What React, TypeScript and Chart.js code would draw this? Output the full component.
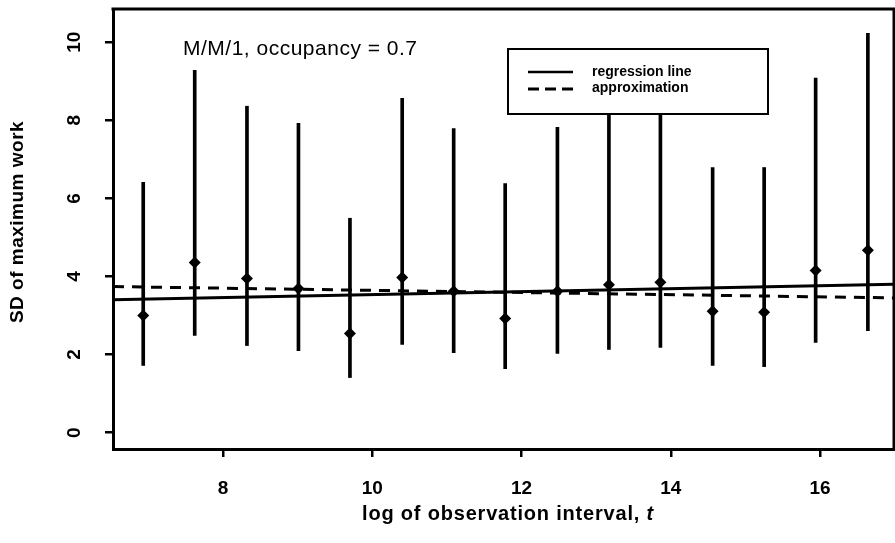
import React, { useEffect, useRef } from "react";
import { Chart, registerables } from "chart.js";

Chart.register(...registerables);

// ---- data ----
const logT = [6.93, 7.62, 8.32, 9.01, 9.7, 10.4, 11.09, 11.78, 12.48, 13.17, 13.86, 14.56, 15.25, 15.94, 16.64];
const sdEstimate = [3.0, 4.36, 3.95, 3.69, 2.54, 3.97, 3.62, 2.92, 3.62, 3.79, 3.85, 3.11, 3.08, 4.15, 4.67];
const sdLower = [1.72, 2.49, 2.23, 2.1, 1.41, 2.26, 2.05, 1.64, 2.03, 2.13, 2.18, 1.72, 1.69, 2.31, 2.61];
const sdUpper = [6.41, 9.28, 8.36, 7.92, 5.49, 8.56, 7.79, 6.38, 7.82, 8.6, 8.5, 6.79, 6.79, 9.08, 10.23];
const xRange = [6.525, 16.99];
const yRange = [-0.42, 10.85];
const regressionLine = [3.4, 3.8];
const approximationLine = [3.74, 3.45];
const yTickValues = [0, 2, 4, 6, 8, 10];
const legendLabels = ["regression line", "approximation"];
const annotationText = "M/M/1, occupancy = 0.7";
const xTitle = "log of observation interval, ";
const xTitleVar = "t";
const yTitle = "SD of maximum work";

const FONT = "'Liberation Sans', Arial, Helvetica, sans-serif";

const decorPlugin = {
  id: "decor",
  afterDatasetsDraw(chart: any) {
    const { ctx, chartArea: a } = chart;
    ctx.save();
    ctx.strokeStyle = "#000";
    ctx.lineWidth = 3;
    ctx.beginPath();
    ctx.moveTo(a.left - 1.5, a.top);
    ctx.lineTo(a.right, a.top);
    ctx.lineTo(a.right, a.bottom + 1.5);
    ctx.stroke();

    // legend box
    const lx = 508, ly = 49, lw = 260, lh = 65;
    ctx.fillStyle = "#fff";
    ctx.fillRect(lx, ly, lw, lh);
    ctx.lineWidth = 2;
    ctx.strokeRect(lx, ly, lw, lh);
    // samples
    ctx.lineWidth = 2.5;
    ctx.beginPath();
    ctx.moveTo(528, 72);
    ctx.lineTo(573, 72);
    ctx.stroke();
    ctx.lineWidth = 3;
    ctx.setLineDash([11, 6]);
    ctx.beginPath();
    ctx.moveTo(528, 89);
    ctx.lineTo(573, 89);
    ctx.stroke();
    ctx.setLineDash([]);
    ctx.fillStyle = "#000";
    ctx.font = `bold 14px ${FONT}`;
    ctx.textAlign = "left";
    ctx.textBaseline = "middle";
    ctx.fillText(legendLabels[0], 592, 72);
    ctx.fillText(legendLabels[1], 592, 88);

    // annotation
    ctx.font = `21px ${FONT}`;
    (ctx as any).letterSpacing = "0.5px";
    ctx.textBaseline = "alphabetic";
    ctx.fillText(annotationText, 183, 55);
    (ctx as any).letterSpacing = "0px";
    ctx.restore();
  },
  afterDraw(chart: any) {
    const { ctx, scales } = chart;
    const y = scales.y;
    ctx.save();
    ctx.fillStyle = "#000";
    // y tick labels rotated
    ctx.font = `bold 19px ${FONT}`;
    ctx.textAlign = "center";
    ctx.textBaseline = "middle";
    for (const v of yTickValues) {
      const py = y.getPixelForValue(v);
      ctx.save();
      ctx.translate(75, py);
      ctx.rotate(-Math.PI / 2);
      ctx.fillText(String(v), 0, 0);
      ctx.restore();
    }
    // y title
    ctx.save();
    ctx.translate(18, 222);
    ctx.rotate(-Math.PI / 2);
    (ctx as any).letterSpacing = "0.5px";
    ctx.font = `bold 19px ${FONT}`;
    ctx.fillText(yTitle, 0, 0);
    ctx.restore();

    // x title with italic variable
    ctx.textBaseline = "alphabetic";
    ctx.textAlign = "left";
    (ctx as any).letterSpacing = "0.8px";
    ctx.font = `bold 20px ${FONT}`;
    const w1 = ctx.measureText(xTitle).width;
    ctx.font = `italic bold 20px ${FONT}`;
    const w2 = ctx.measureText(xTitleVar).width;
    const start = 508 - (w1 + w2) / 2;
    ctx.font = `bold 20px ${FONT}`;
    ctx.fillText(xTitle, start, 520);
    ctx.font = `italic bold 20px ${FONT}`;
    ctx.fillText(xTitleVar, start + w1, 520);
    ctx.restore();
  },
};

export default function App() {
  const ref = useRef<HTMLCanvasElement | null>(null);

  useEffect(() => {
    if (!ref.current) return;
    const chart = new Chart(ref.current, {
      type: "scatter",
      data: {
        datasets: [
          {
            type: "bar",
            data: logT.map((x, i) => ({ x, y: [sdLower[i], sdUpper[i]] })) as any,
            backgroundColor: "#000",
            borderWidth: 0,
            barThickness: 3,
            grouped: false,
            order: 3,
          } as any,
          {
            type: "scatter",
            data: logT.map((x, i) => ({ x, y: sdEstimate[i] })),
            pointStyle: "rectRot",
            pointRadius: 6,
            backgroundColor: "#000",
            borderColor: "#000",
            borderWidth: 0,
            order: 1,
          },
          {
            type: "line",
            data: [
              { x: xRange[0], y: regressionLine[0] },
              { x: xRange[1], y: regressionLine[1] },
            ],
            borderColor: "#000",
            borderWidth: 3,
            pointRadius: 0,
            fill: false,
            order: 2,
          },
          {
            type: "line",
            data: [
              { x: xRange[0], y: approximationLine[0] },
              { x: xRange[1], y: approximationLine[1] },
            ],
            borderColor: "#000",
            borderWidth: 3,
            borderDash: [11, 8],
            pointRadius: 0,
            fill: false,
            order: 2,
          },
        ],
      },
      options: {
        animation: false,
        responsive: false,
        layout: { autoPadding: false, padding: { top: 9, right: 1, left: 0, bottom: 0 } },
        plugins: { legend: { display: false }, tooltip: { enabled: false } },
        scales: {
          x: {
            type: "linear",
            min: xRange[0],
            max: xRange[1],
            offset: false,
            afterFit: (s: any) => {
              s.height = 94;
              s.paddingLeft = 0;
              s.paddingRight = 0;
            },
            ticks: {
              stepSize: 2,
              includeBounds: false,
              color: "#000",
              font: { family: FONT, size: 19, weight: "bold" },
              padding: 20,
              maxRotation: 0,
            },
            grid: {
              offset: false,
              drawOnChartArea: false,
              drawTicks: true,
              tickLength: 8,
              color: "#000",
              lineWidth: 2.5,
            },
            border: { display: true, color: "#000", width: 3 },
          },
          y: {
            type: "linear",
            min: yRange[0],
            max: yRange[1],
            afterFit: (s: any) => {
              s.width = 113;
              s.paddingTop = 0;
              s.paddingBottom = 0;
            },
            ticks: { stepSize: 2, includeBounds: false, display: false },
            grid: {
              drawOnChartArea: false,
              drawTicks: true,
              tickLength: 8,
              color: "#000",
              lineWidth: 2.5,
            },
            border: { display: true, color: "#000", width: 3 },
          },
        },
      } as any,
      plugins: [decorPlugin],
    });
    return () => chart.destroy();
  }, []);

  return (
    <div style={{ position: "absolute", left: 0, top: 0, width: 895, height: 543, background: "#fff" }}>
      <canvas ref={ref} width={895} height={543} style={{ display: "block" }} />
    </div>
  );
}
